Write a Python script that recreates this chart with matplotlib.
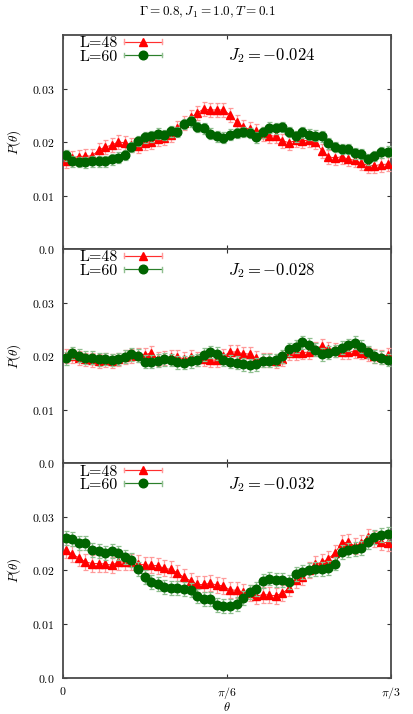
import numpy as np
import matplotlib
matplotlib.use("Agg")
import matplotlib.pyplot as plt
from matplotlib.ticker import FixedLocator
from matplotlib.legend_handler import HandlerBase
from matplotlib.lines import Line2D

plt.rcParams['mathtext.fontset'] = 'cm'
plt.rcParams['font.family'] = ['serif']
plt.rcParams['font.serif'] = ['cmr10', 'DejaVu Serif']
plt.rcParams['axes.unicode_minus'] = False

# ---------------- data ----------------
n_bins = 50
theta = (np.arange(n_bins) + 0.5) * (np.pi / 3) / n_bins

j2_labels = [r'$J_2 = -0.024$', r'$J_2 = -0.028$', r'$J_2 = -0.032$']
series_labels = ['L=48', 'L=60']

p48_a = [0.0164, 0.0171, 0.0173, 0.0174, 0.0174, 0.0185, 0.0191, 0.0194, 0.0201, 0.0198,
         0.0195, 0.0193, 0.0199, 0.0201, 0.0205, 0.0207, 0.0213, 0.0227, 0.0236, 0.0246,
         0.0254, 0.0262, 0.0260, 0.0260, 0.0260, 0.0251, 0.0238, 0.0228, 0.0224, 0.0220,
         0.0215, 0.0212, 0.0211, 0.0202, 0.0199, 0.0203, 0.0202, 0.0204, 0.0201, 0.0184,
         0.0173, 0.0170, 0.0173, 0.0168, 0.0166, 0.0161, 0.0156, 0.0156, 0.0158, 0.0159]
p60_a = [0.0175, 0.0164, 0.0163, 0.0162, 0.0164, 0.0164, 0.0164, 0.0168, 0.0171, 0.0176,
         0.0191, 0.0202, 0.0209, 0.0211, 0.0216, 0.0213, 0.0220, 0.0219, 0.0234, 0.0239,
         0.0228, 0.0226, 0.0216, 0.0211, 0.0208, 0.0214, 0.0217, 0.0219, 0.0217, 0.0209,
         0.0218, 0.0227, 0.0226, 0.0228, 0.0219, 0.0211, 0.0218, 0.0214, 0.0212, 0.0211,
         0.0198, 0.0191, 0.0187, 0.0187, 0.0179, 0.0178, 0.0168, 0.0174, 0.0181, 0.0182]

p48_b = [0.0201, 0.0200, 0.0197, 0.0194, 0.0193, 0.0192, 0.0193, 0.0192, 0.0194, 0.0199,
         0.0201, 0.0203, 0.0203, 0.0206, 0.0195, 0.0196, 0.0198, 0.0199, 0.0195, 0.0198,
         0.0195, 0.0195, 0.0193, 0.0193, 0.0200, 0.0208, 0.0208, 0.0205, 0.0204, 0.0196,
         0.0193, 0.0193, 0.0192, 0.0195, 0.0206, 0.0206, 0.0207, 0.0208, 0.0214, 0.0219,
         0.0214, 0.0211, 0.0208, 0.0208, 0.0210, 0.0207, 0.0205, 0.0201, 0.0199, 0.0202]
p60_b = [0.0196, 0.0206, 0.0201, 0.0197, 0.0197, 0.0194, 0.0195, 0.0193, 0.0195, 0.0199,
         0.0204, 0.0201, 0.0190, 0.0190, 0.0192, 0.0194, 0.0193, 0.0189, 0.0188, 0.0191,
         0.0193, 0.0203, 0.0208, 0.0205, 0.0193, 0.0190, 0.0188, 0.0185, 0.0183, 0.0185,
         0.0192, 0.0192, 0.0193, 0.0200, 0.0213, 0.0218, 0.0226, 0.0222, 0.0212, 0.0204,
         0.0207, 0.0210, 0.0216, 0.0221, 0.0225, 0.0218, 0.0208, 0.0200, 0.0197, 0.0193]

p48_c = [0.0239, 0.0230, 0.0224, 0.0216, 0.0213, 0.0213, 0.0212, 0.0210, 0.0216, 0.0216,
         0.0216, 0.0213, 0.0210, 0.0210, 0.0209, 0.0204, 0.0202, 0.0196, 0.0187, 0.0181,
         0.0174, 0.0174, 0.0176, 0.0173, 0.0171, 0.0164, 0.0163, 0.0160, 0.0158, 0.0152,
         0.0155, 0.0154, 0.0153, 0.0158, 0.0167, 0.0183, 0.0188, 0.0201, 0.0212, 0.0215,
         0.0222, 0.0233, 0.0251, 0.0253, 0.0246, 0.0251, 0.0263, 0.0258, 0.0253, 0.0252]
p60_c = [0.0261, 0.0258, 0.0251, 0.0251, 0.0239, 0.0236, 0.0233, 0.0236, 0.0233, 0.0225,
         0.0219, 0.0203, 0.0188, 0.0179, 0.0174, 0.0169, 0.0168, 0.0168, 0.0166, 0.0163,
         0.0152, 0.0146, 0.0147, 0.0135, 0.0134, 0.0133, 0.0137, 0.0149, 0.0159, 0.0166,
         0.0181, 0.0185, 0.0183, 0.0183, 0.0178, 0.0193, 0.0198, 0.0201, 0.0202, 0.0202,
         0.0204, 0.0213, 0.0235, 0.0239, 0.0240, 0.0242, 0.0254, 0.0262, 0.0267, 0.0268]

err48 = [0.0013, 0.0013, 0.0015]
err60 = [0.0010, 0.0012, 0.0013]

panels = [(p48_a, p60_a), (p48_b, p60_b), (p48_c, p60_c)]

RED, RED_E = '#ff0000', '#ff9a9a'
GRN, GRN_E = '#006400', '#8fbf8f'


class CapHandler(HandlerBase):
    """Legend sample drawn as |--marker--| (gnuplot style)."""
    def __init__(self, color, ecolor, marker, ms):
        super().__init__()
        self.color, self.ecolor, self.marker, self.ms = color, ecolor, marker, ms

    def create_artists(self, legend, orig_handle, xdescent, ydescent, width, height,
                       fontsize, trans):
        y = height / 2 - ydescent
        x0, x1 = -xdescent, width - xdescent
        c = height * 0.22
        arts = [Line2D([x0, x1], [y, y], color=self.ecolor, lw=1.0),
                Line2D([x0 + 1, x1 - 1], [y, y], color=self.color, lw=0.5),
                Line2D([x0, x0], [y - c, y + c], color=self.ecolor, lw=1.0),
                Line2D([x1, x1], [y - c, y + c], color=self.ecolor, lw=1.0),
                Line2D([(x0 + x1) / 2], [y], color=self.color, marker=self.marker,
                       markersize=self.ms, ls='none')]
        for a in arts:
            a.set_transform(trans)
        return arts


# ---------------- figure ----------------
fig = plt.figure(figsize=(4.14, 7.14), dpi=100)
left, right, top, bottom = 0.151, 0.944, 0.951, 0.051
h = (top - bottom) / 3
frame_col = '#4a4a4a'

for i, (p48, p60) in enumerate(panels):
    ax = fig.add_axes([left, top - (i + 1) * h, right - left, h])
    e1 = ax.errorbar(theta, p48, yerr=err48[i], color=RED, ecolor=RED_E,
                     elinewidth=0.9, capsize=1.8, capthick=0.9, marker='^', markersize=5.2,
                     lw=0.6, label=series_labels[0], zorder=3)
    e2 = ax.errorbar(theta, p60, yerr=err60[i], color=GRN, ecolor=GRN_E,
                     elinewidth=0.9, capsize=1.8, capthick=0.9, marker='o', markersize=6.2,
                     lw=0.6, label=series_labels[1], zorder=4)
    ax.set_xlim(0, np.pi / 3)
    ax.set_ylim(0, 0.04)
    ax.yaxis.set_major_locator(FixedLocator([0.0, 0.01, 0.02, 0.03]))
    ax.set_yticklabels([r'$0.0$', r'$0.01$', r'$0.02$', r'$0.03$'])
    ax.xaxis.set_major_locator(FixedLocator([0, np.pi / 6, np.pi / 3]))
    if i == 2:
        ax.set_xticklabels([r'$0$', r'$\pi/6$', r'$\pi/3$'])
        ax.set_xlabel(r'$\theta$', fontsize=9, labelpad=0.5)
    else:
        ax.set_xticklabels([])
    ax.tick_params(direction='in', which='both', top=True, right=True, labelsize=8.5,
                   length=3, width=0.8, color='#333333', pad=6)
    ax.tick_params(axis='x', pad=5)
    for sp in ax.spines.values():
        sp.set_color(frame_col)
        sp.set_linewidth(1.3)
    ax.set_ylabel(r'$P(\theta)$', fontsize=9.5, labelpad=6)
    ax.legend([e1, e2], series_labels, loc='upper left', frameon=False, markerfirst=False,
              fontsize=11.5, handlelength=2.4, handletextpad=0.4, labelspacing=-0.05,
              borderaxespad=0.0, bbox_to_anchor=(0.032, 1.025),
              handler_map={e1: CapHandler(RED, RED_E, '^', 5.2),
                           e2: CapHandler(GRN, GRN_E, 'o', 6.2)})
    ax.text(0.505, 0.902, j2_labels[i], transform=ax.transAxes, fontsize=12,
            ha='left', va='center')

fig.text(0.5, 0.983, r'$\Gamma=0.8, J_1=1.0, T=0.1$', ha='center', va='center', fontsize=9.5)

fig.savefig('out.png', dpi=100)
